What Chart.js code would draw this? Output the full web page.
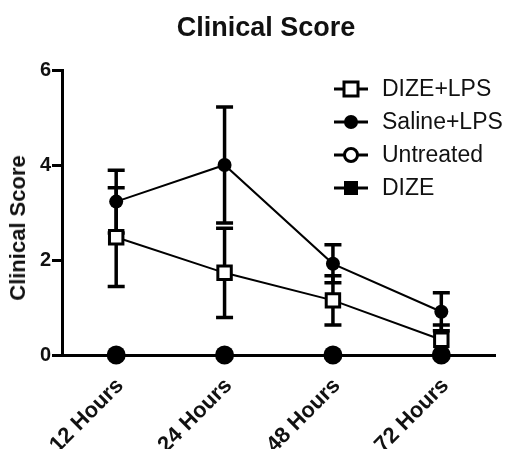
<!DOCTYPE html>
<html>
<head>
<meta charset="utf-8">
<script src="https://cdn.jsdelivr.net/npm/chart.js@4.4.1/dist/chart.umd.min.js"></script>
<style>
  html, body { margin: 0; padding: 0; background: #fff; }
  #wrap { position: relative; width: 508px; height: 449px; }
  #title { position: absolute; left: 146px; width: 240px; top: 12px; text-align: center;
           font: bold 27px "Liberation Sans", Arial, sans-serif; color: #111; white-space: nowrap; }
  #ytitle { position: absolute; left: 18px; top: 228px; transform: translate(-50%, -50%) rotate(-90deg);
            font: bold 22px "Liberation Sans", Arial, sans-serif; color: #111; white-space: nowrap; }
  #legend { position: absolute; left: 333px; top: 72px; font: 23px "Liberation Sans", Arial, sans-serif; color: #111; }
  .item { display: flex; align-items: center; height: 33px; white-space: nowrap; }
  .item svg { width: 36px; height: 22px; margin-right: 13px; }
</style>
</head>
<body>
<div id="wrap">
  <canvas id="c" width="508" height="449"></canvas>
  <div id="title">Clinical Score</div>
  <div id="ytitle">Clinical Score</div>
  <div id="legend"></div>
</div>
<script>
// ---- data ----
const timepoints = ['12 Hours', '24 Hours', '48 Hours', '72 Hours'];
const dizeLps = [2.48, 1.73, 1.15, 0.32];
const dizeLpsErr = [1.04, 0.94, 0.52, 0.31];
const salineLps = [3.23, 4.0, 1.92, 0.91];
const salineLpsErr = [0.66, 1.22, 0.40, 0.40];
const untreated = [0, 0, 0, 0];
const dize = [0, 0, 0, 0];
const yTicks = [0, 2, 4, 6];

const FONT = '"Liberation Sans", Arial, sans-serif';

// error bars drawn under the markers, positioned through the chart scales
const errorBars = {
  id: 'errorBars',
  beforeDatasetsDraw(chart) {
    const { ctx, scales: { x, y } } = chart;
    ctx.save();
    ctx.strokeStyle = '#000';
    chart.data.datasets.forEach(ds => {
      if (!ds.errors) return;
      ds.data.forEach((v, i) => {
        const px = x.getPixelForValue(i);
        const top = y.getPixelForValue(v + ds.errors[i]);
        const bot = y.getPixelForValue(Math.max(0, v - ds.errors[i]));
        ctx.lineWidth = 3.5;
        ctx.beginPath(); ctx.moveTo(px, top); ctx.lineTo(px, bot); ctx.stroke();
        ctx.lineWidth = 3.5;
        ctx.beginPath();
        ctx.moveTo(px - 8.5, top); ctx.lineTo(px + 8.5, top);
        ctx.moveTo(px - 8.5, bot); ctx.lineTo(px + 8.5, bot);
        ctx.stroke();
      });
    });
    ctx.restore();
  }
};

const base = { borderColor: '#000', borderWidth: 2, pointBorderColor: '#000', clip: false, tension: 0 };

new Chart(document.getElementById('c'), {
  type: 'line',
  data: {
    labels: timepoints,
    datasets: [
      { ...base, label: 'DIZE+LPS', data: dizeLps, errors: dizeLpsErr,
        pointStyle: 'rect', pointRadius: 9.5, pointBorderWidth: 3, pointBackgroundColor: '#fff' },
      { ...base, label: 'Saline+LPS', data: salineLps, errors: salineLpsErr,
        pointStyle: 'circle', pointRadius: 7, pointBorderWidth: 0, pointBackgroundColor: '#000' },
      { ...base, label: 'Untreated', data: untreated,
        pointStyle: 'circle', pointRadius: 9.5, pointBorderWidth: 0, pointBackgroundColor: '#000' },
      { ...base, label: 'DIZE', data: dize,
        pointStyle: 'rect', pointRadius: 8, pointBorderWidth: 0, pointBackgroundColor: '#000' },
    ]
  },
  options: {
    responsive: false,
    animation: false,
    layout: { padding: { left: 0, right: 11, top: 70, bottom: 0 } },
    plugins: { legend: { display: false }, tooltip: { enabled: false }, title: { display: false } },
    scales: {
      x: {
        offset: true,
        grid: { display: false },
        border: { width: 3, color: '#000' },
        ticks: { minRotation: 45, maxRotation: 45, padding: 10, labelOffset: 4, color: '#111',
                 font: { family: FONT, size: 22, weight: 'bold' } },
        afterFit(s) { s.height = 94; }
      },
      y: {
        min: 0, max: 6,
        afterBuildTicks(s) { s.ticks = yTicks.map(v => ({ value: v })); },
        grid: { drawOnChartArea: false, tickLength: 10, tickWidth: 3, tickColor: '#000' },
        border: { width: 3, color: '#000' },
        ticks: { padding: 1, color: '#111', font: { family: FONT, size: 20, weight: 'bold' } },
        afterFit(s) { s.width = 62; }
      }
    }
  },
  plugins: [errorBars]
});

// ---- legend (line + marker, as in the figure) ----
const legendItems = [
  { label: 'DIZE+LPS', mark: '<rect x="11" y="4" width="14" height="14" fill="#fff" stroke="#000" stroke-width="3"/>' },
  { label: 'Saline+LPS', mark: '<circle cx="18" cy="11" r="7" fill="#000"/>' },
  { label: 'Untreated', mark: '<circle cx="18" cy="11" r="6.5" fill="#fff" stroke="#000" stroke-width="3"/>' },
  { label: 'DIZE', mark: '<rect x="11" y="4" width="14" height="14" fill="#000"/>' },
];
document.getElementById('legend').innerHTML = legendItems.map(it =>
  `<div class="item"><svg viewBox="0 0 36 22"><line x1="1" y1="11" x2="35" y2="11" stroke="#000" stroke-width="3"/>${it.mark}</svg>${it.label}</div>`
).join('');
</script>
</body>
</html>
